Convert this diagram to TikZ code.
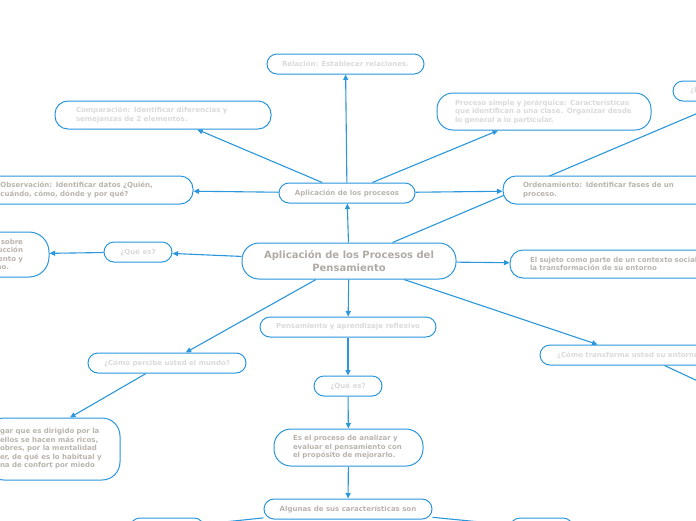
\documentclass[tikz,border=0pt]{standalone}
\usepackage{fontspec}
\setmainfont{DejaVu Sans}
\usetikzlibrary{arrows.meta, backgrounds}
\definecolor{mblue}{HTML}{2A96DC}
\definecolor{mgrey}{HTML}{BAB4AE}
\definecolor{lgrey}{HTML}{DADADA}
\tikzset{
  topic/.style={
    draw=mblue, fill=white, line width=1pt, rounded corners=#1,
    inner xsep=8pt, inner ysep=0pt, minimum height=20pt,
    font=\fontsize{7}{8.5}\selectfont\bfseries, text=mgrey
  },
  topic/.default=10pt,
  arr/.style={draw=mblue, line width=1.1pt, -{Triangle[length=5.5pt,width=5pt]}},
  link/.style={draw=mblue, line width=1.1pt}
}

\begin{document}
\begin{tikzpicture}[x=1pt, y=-1pt]
  \useasboundingbox (0,0) rectangle (696,520);

  \node[topic=17pt, minimum width=214pt, minimum height=36pt, align=center,
        font=\fontsize{10}{13}\selectfont\bfseries, text=mgrey!95!black] (central) at (349,261)
    {Aplicación de los Procesos del\\Pensamiento};

  \node[topic, minimum width=136pt] (procesos) at (347,193) {Aplicación de los procesos};
  \node[topic, minimum width=157pt, text=lgrey] (relacion) at (345.5,64) {Relación: Establecer relaciones.};
  \node[topic=13pt, text=lgrey, text width=174pt, inner xsep=21pt, minimum height=28pt, align=left] (comparacion) at (163,115)
    {Comparación: Identificar diferencias y\\semejanzas de 2 elementos.};
  \node[topic=16pt, text=lgrey, text width=178pt, inner xsep=18pt, minimum height=37pt, align=left] (jerarquica) at (544,111.5)
    {Proceso simple y jerárquica: Características\\que identifican a una clase. Organizar desde\\lo general a lo particular.};
  \node[topic, text=lgrey, text width=120pt, inner xsep=17pt, align=left] (importancia) at (750,91) {¿I};
  \node[topic=13pt, text width=174.5pt, inner xsep=18pt, minimum height=28pt, align=left] (observacion) at (87.75,190)
    {Observación: Identificar datos ¿Quién,\\cuándo, cómo, dónde y por qué?};
  \node[topic=13pt, text width=180pt, inner xsep=20pt, minimum height=28pt, align=left] (ordenamiento) at (613,190)
    {Ordenamiento: Identificar fases de un\\proceso.};

  \node[topic, minimum width=68pt, text=lgrey] (quees1) at (138,252) {¿Qué es?};
  \node[topic=20pt, text width=100pt, inner xsep=26pt, minimum height=45pt, align=right] (reflexion) at (-27,254.5)
    {sobre\\ucción\\ento y\\no.\hspace*{14pt}};
  \node[topic=13pt, text width=200pt, inner xsep=20pt, minimum height=28pt, align=left] (sujeto) at (630,264)
    {El sujeto como parte de un contexto social\\la transformación de su entorno};

  \node[topic, minimum width=176pt, text=lgrey] (pensamiento) at (348,327) {Pensamiento y aprendizaje reflexivo};
  \node[topic, minimum width=158pt, text=lgrey] (percibe) at (167,363) {¿Cómo percibe usted el mundo?};
  \node[topic, text=lgrey, text width=170pt, inner xsep=17pt, align=left] (transforma) at (642,355)
    {¿Cómo transforma usted su entorno};
  \node[topic=18pt, text width=106pt, inner xsep=14pt, minimum height=62pt, align=left] (mentalidad) at (53,449)
    {gar que es dirigido por la\\ellos se hacen más ricos,\\obres, por la mentalidad\\er, de qué es lo habitual y\\na de confort por miedo};

  \node[topic, minimum width=68pt, text=lgrey] (quees2) at (348,386) {¿Qué es?};
  \node[topic=17pt, text width=111pt, inner xsep=19pt, minimum height=37pt, align=left] (analizar) at (348.5,447.5)
    {Es el proceso de analizar y\\evaluar el pensamiento con\\el propósito de mejorarlo.};
  \node[topic, minimum width=168pt] (algunas) at (348,509) {Algunas de sus características son};
  \node[topic, minimum width=74pt] (caracL) at (167,528) {};
  \node[topic, minimum width=63pt] (caracR) at (541.5,528) {};

  \coordinate (offR) at (760,410);

  \begin{scope}[on background layer]
    \draw[arr] (central) -- (procesos);
    \draw[arr] (procesos) -- (relacion);
    \draw[arr] (procesos) -- (comparacion);
    \draw[arr] (procesos) -- (jerarquica);
    \draw[arr] (procesos) -- (observacion);
    \draw[arr] (procesos) -- (ordenamiento);
    \draw[arr] (central) -- (importancia);
    \draw[arr] (central) -- (quees1);
    \draw[arr] (quees1) -- (reflexion);
    \draw[arr] (central) -- (sujeto);
    \draw[arr] (central) -- (pensamiento);
    \draw[arr] (central) -- (percibe);
    \draw[arr] (central) -- ([xshift=58pt]transforma.north west);
    \draw[link] (transforma) -- (offR);
    \draw[arr] ([xshift=-21pt]percibe.south) -- ([xshift=17pt]mentalidad.north);
    \draw[arr] (pensamiento) -- (quees2);
    \draw[arr] (quees2) -- (analizar);
    \draw[arr] (analizar) -- (algunas);
    \draw[arr] (algunas) -- (caracL);
    \draw[arr] (algunas) -- (caracR);
  \end{scope}
\end{tikzpicture}
\end{document}
